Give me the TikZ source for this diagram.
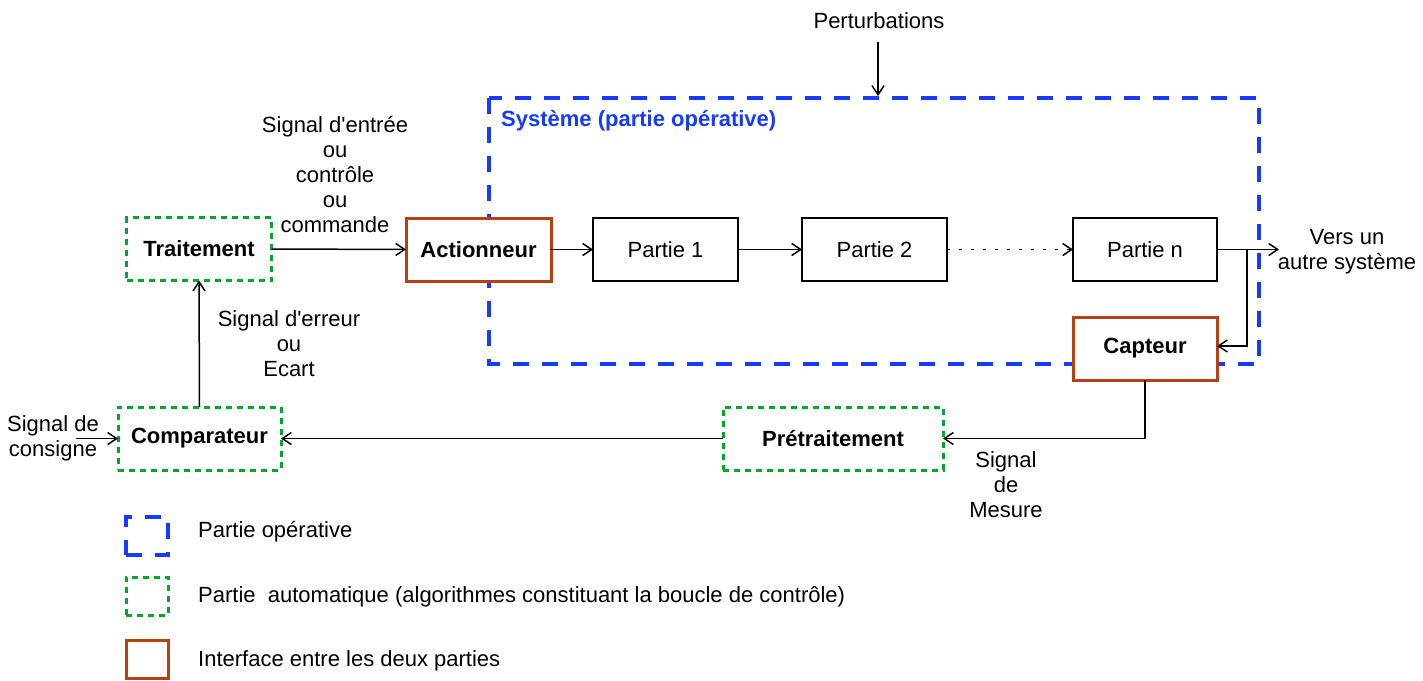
\documentclass[tikz,border=0pt]{standalone}
\usepackage{fontspec}
\setmainfont{Liberation Sans}
\usetikzlibrary{arrows.meta}
\definecolor{opblue}{RGB}{22,58,255}
\definecolor{autogreen}{RGB}{0,168,42}
\definecolor{ifaceorange}{RGB}{184,64,16}
\newcommand{\fsz}{\fontsize{22}{25}\selectfont}
\tikzset{
  txt/.style={font=\fsz, align=center, inner sep=0pt},
  blk/.style={draw=black, line width=1.5pt, fill=white, minimum width=145pt,
    minimum height=63pt, inner sep=0pt, outer sep=0pt, font=\fsz},
  iface/.style={blk, draw=ifaceorange, line width=3pt, font=\fsz\bfseries},
  auto/.style={blk, draw=autogreen, line width=3pt, dash pattern=on 6pt off 5pt,
    font=\fsz\bfseries},
  opzone/.style={draw=opblue, line width=3.5pt, dash pattern=on 16pt off 13pt},
  arr/.style={line width=1.5pt, -{Straight Barb[length=9pt,width=12pt,line width=1.5pt]}},
  dotarr/.style={arr, dash pattern=on 3pt off 9pt}
}
\begin{document}
\begin{tikzpicture}[x=1pt,y=-1pt]
\useasboundingbox (0,0) rectangle (1423,680);

% operative part (system) zone
\draw[opzone] (489,98) rectangle (1259,364);
\node[txt, anchor=west, text=opblue, font=\fsz\bfseries] (systitle) at (501,121) {Système (partie opérative)};

% blocks
\node[auto] (trait) at (199,249) {Traitement};
\node[iface] (act) at (478.5,249.5) {Actionneur};
\node[blk] (p1) at (665.5,249.5) {Partie 1};
\node[blk] (p2) at (874.5,249.5) {Partie 2};
\node[blk, minimum width=144pt] (pn) at (1145,249.5) {Partie n};
\node[iface, minimum width=144pt] (capt) at (1145,348.5) {Capteur};
\node[auto, minimum width=220pt] (pret) at (833,438.5) {Prétraitement};
\node[auto, minimum width=163pt] (comp) at (199.5,438.5) {Comparateur};

% labels
\node[txt] (pert) at (879,21) {Perturbations};
\coordinate (pertin) at (878,96);
\node[txt] (entree) at (335,175) {Signal d\textquotesingle entrée\\ou\\contrôle\\ou\\commande};
\node[txt] (erreur) at (289,344) {Signal d\textquotesingle erreur\\ou\\Ecart};
\node[txt] (cons) at (53,438) {Signal de\\consigne};
\coordinate (consin) at (76,438.5);
\node[txt] (vers) at (1347,252) {Vers un\\autre système};
\coordinate (out) at (1279,249.5);
\coordinate (branch) at (1247,249.5);
\node[txt] (mesure) at (1006,485) {Signal\\de\\Mesure};

% connectors
\draw[arr] (pert.south) ++(-1,13) -- (pertin);
\draw[arr] (trait.east) -- (act.west);
\draw[arr] (act.east) -- (p1.west);
\draw[arr] (p1.east) -- (p2.west);
\draw[dotarr] (p2.east) -- (pn.west);
\draw[arr] (pn.east) -- (out);
\draw[arr] (branch) |- ([yshift=2.5pt]capt.east);
\draw[arr] (capt.south) |- (pret.east);
\draw[arr] (pret.west) -- (comp.east);
\draw[arr] (comp.north) -- (trait.south);
\draw[arr] (consin) -- (comp.west);

% legend
\node[blk, opzone, fill=none, minimum width=42pt, minimum height=38pt] (legop) at (147,536) {};
\node[txt, anchor=west] (legoptxt) at (198,532) {Partie opérative};
\node[auto, minimum width=42pt, minimum height=38pt] (legauto) at (147,596) {};
\node[txt, anchor=west] (legautotxt) at (198,597) {Partie\ \ automatique (algorithmes constituant la boucle de contrôle)};
\node[iface, minimum width=42pt, minimum height=38pt] (legif) at (147,659) {};
\node[txt, anchor=west] (legiftxt) at (198,661) {Interface entre les deux parties};
\end{tikzpicture}
\end{document}
